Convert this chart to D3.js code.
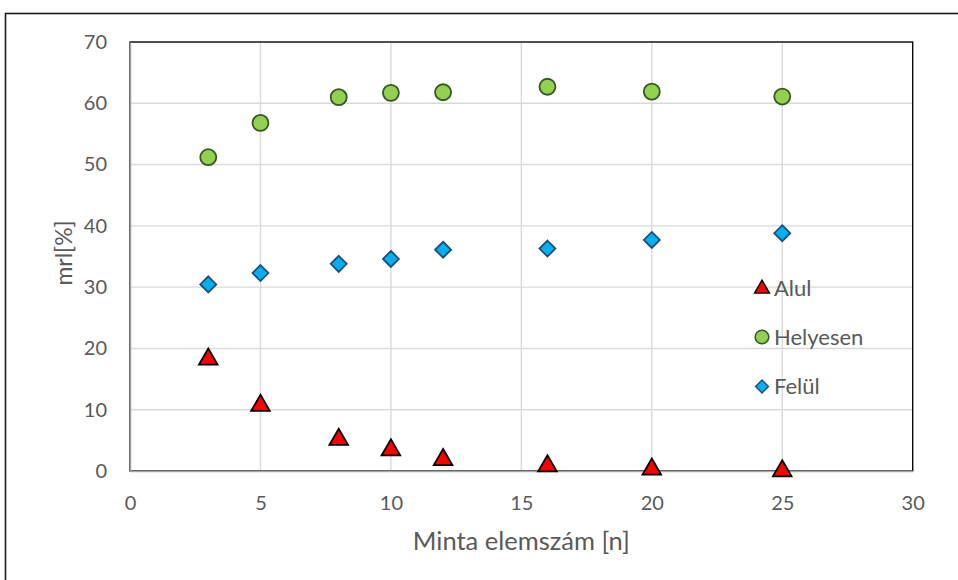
<!DOCTYPE html>
<html>
<head>
<meta charset="utf-8">
<script src="https://cdn.jsdelivr.net/npm/d3@7/dist/d3.min.js"></script>
<style>
  html, body { margin: 0; padding: 0; background: #fff; }
  svg { display: block; }
  text { font-family: Lato, "Open Sans", "Liberation Sans", sans-serif; fill: #595959; }
</style>
</head>
<body>
<svg id="chart" width="958" height="580"></svg>
<script>
// Sample size (n) on the x axis
const sampleSizes = [3, 5, 8, 10, 12, 16, 20, 25];
// Share of results per class, in percent
const alul      = [18.4, 10.85, 5.3, 3.6, 2.0, 0.98, 0.44, 0.16];
const helyesen  = [51.2, 56.8, 61.0, 61.7, 61.8, 62.7, 61.9, 61.1];
const felul     = [30.45, 32.3, 33.8, 34.6, 36.1, 36.3, 37.7, 38.8];

const xTicks = [0, 5, 10, 15, 20, 25, 30];
const yTicks = [0, 10, 20, 30, 40, 50, 60, 70];

const xTitle = "Minta elemszám [n]";
const yTitle = "mrl[%]";
const seriesNames = ["Alul", "Helyesen", "Felül"];

const svg = d3.select("#chart");

// Outer chart frame (runs past the right and bottom edges)
svg.append("rect")
  .attr("x", 5.5).attr("y", 13.5)
  .attr("width", 1200).attr("height", 1200)
  .attr("fill", "none").attr("stroke", "#1a1a1a").attr("stroke-width", 1.6);

const plot = { left: 130, right: 912.7, top: 42, bottom: 471 };

const x = d3.scaleLinear().domain([0, 30]).range([plot.left, plot.right]);
const y = d3.scaleLinear().domain([0, 70]).range([plot.bottom, plot.top]);

// Gridlines
const grid = svg.append("g");
grid.selectAll("line.h").data(yTicks).join("line")
  .attr("x1", plot.left).attr("x2", plot.right)
  .attr("y1", d => y(d)).attr("y2", d => y(d))
  .attr("stroke", "#d9d9d9").attr("stroke-width", 1.4);
grid.selectAll("line.v").data(xTicks).join("line")
  .attr("y1", plot.top).attr("y2", plot.bottom)
  .attr("x1", d => x(d)).attr("x2", d => x(d))
  .attr("stroke", "#d9d9d9").attr("stroke-width", 1.4);

// Plot area border
svg.append("rect")
  .attr("x", plot.left).attr("y", plot.top)
  .attr("width", plot.right - plot.left).attr("height", plot.bottom - plot.top)
  .attr("fill", "none").attr("stroke", "#000").attr("stroke-width", 1.3);

// Axes
const xAxis = svg.append("g")
  .attr("transform", `translate(0,${plot.bottom})`)
  .call(d3.axisBottom(x).tickValues(xTicks).tickSize(0).tickPadding(25));
const yAxis = svg.append("g")
  .attr("transform", `translate(${plot.left},0)`)
  .call(d3.axisLeft(y).tickValues(yTicks).tickSize(0).tickPadding(23));
[xAxis, yAxis].forEach(a => {
  a.select(".domain").attr("stroke", "#a6a6a6").attr("stroke-width", 1.6);
  a.selectAll("text").attr("font-size", 20).style("fill", "#595959")
    .style("font-family", "Lato, 'Open Sans', sans-serif");
});
xAxis.selectAll("text").attr("dy", 0).attr("y", 39);

// Axis titles
svg.append("text")
  .attr("x", (plot.left + plot.right) / 2).attr("y", 550)
  .attr("text-anchor", "middle").attr("font-size", 25.5)
  .text(xTitle);
svg.append("text")
  .attr("transform", `translate(72,253) rotate(-90)`)
  .attr("text-anchor", "middle").attr("font-size", 23)
  .text(yTitle);

// Marker shapes
const triangle = d3.symbol().type(d3.symbolTriangle).size(150);
const diamond = "M0,-8L8,0L0,8L-8,0Z";

const styles = {
  Alul:     { fill: "#ff0000", stroke: "#000000" },
  Helyesen: { fill: "#92d050", stroke: "#375623" },
  "Felül":  { fill: "#00b0f0", stroke: "#1f4e79" }
};

function drawMarker(g, name) {
  const s = styles[name];
  if (name === "Alul") {
    g.append("path").attr("d", triangle()).attr("transform", "translate(0,1)");
  } else if (name === "Helyesen") {
    g.append("circle").attr("r", 8);
  } else {
    g.append("path").attr("d", diamond);
  }
  g.selectAll("*").attr("fill", s.fill).attr("stroke", s.stroke).attr("stroke-width", 1.8);
}

const seriesData = [
  { name: "Alul", values: alul },
  { name: "Helyesen", values: helyesen },
  { name: "Felül", values: felul }
];

seriesData.forEach(sd => {
  const pts = sampleSizes.map((n, i) => ({ n, v: sd.values[i] }));
  svg.append("g").selectAll("g").data(pts).join("g")
    .attr("transform", d => `translate(${x(d.n)},${y(d.v)})`)
    .each(function () { drawMarker(d3.select(this), sd.name); });
});

// Legend
const legend = svg.append("g");
const legendY = [288, 337, 386.5];
seriesNames.forEach((name, i) => {
  const g = legend.append("g").attr("transform", `translate(762,${legendY[i]})`);
  const m = g.append("g").attr("transform", name === "Helyesen" ? "scale(0.85)" : "scale(0.8)");
  drawMarker(m, name);
  g.append("text").attr("x", 12).attr("y", 0).attr("dy", "0.36em")
    .attr("font-size", 22).text(name);
});
</script>
</body>
</html>
